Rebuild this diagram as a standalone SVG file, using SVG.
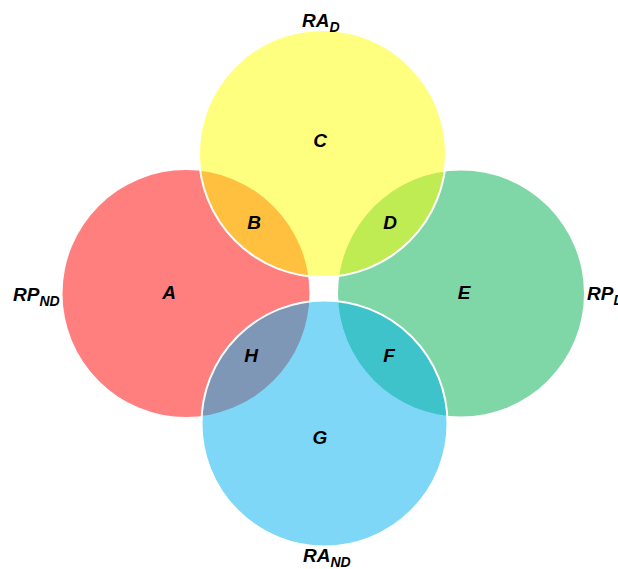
<svg xmlns="http://www.w3.org/2000/svg" width="618" height="569" viewBox="0 0 618 569">
<style>
.c{fill-opacity:0.5;stroke:none}
.s{stroke:#fff;stroke-width:2}
text{font-family:"Liberation Sans",Arial,sans-serif;font-style:italic;font-weight:bold;font-size:19px;fill:#000}
.m{text-anchor:middle}
.sub{font-size:14px}
</style>
<rect width="618" height="569" fill="#fff"/>
<g id="circles">
<g id="rpnd"><circle class="c" cx="186" cy="293.5" r="123.5" fill="#ff0000"/></g>
<g id="rpd"><circle class="c" cx="461" cy="293.5" r="123" fill="#00b050"/></g>
<g id="rad"><circle class="c s" cx="322.5" cy="153.5" r="123.5" fill="#ffff00"/></g>
<g id="rand"><circle class="c s" cx="324.5" cy="423.5" r="123" fill="#00b0f0"/></g>
</g>
<g id="regions">
<text class="m" x="169" y="299">A</text>
<text class="m" x="254" y="229">B</text>
<text class="m" x="320" y="147">C</text>
<text class="m" x="390" y="229">D</text>
<text class="m" x="464" y="299">E</text>
<text class="m" x="389" y="362">F</text>
<text class="m" x="320" y="444">G</text>
<text class="m" x="251" y="362">H</text>
</g>
<g id="labels">
<text x="302" y="27">RA<tspan class="sub" dy="5">D</tspan></text>
<text x="13" y="301">RP<tspan class="sub" dy="5">ND</tspan></text>
<text x="587" y="300">RP<tspan class="sub" dy="5">D</tspan></text>
<text x="303" y="562">RA<tspan class="sub" dy="5">ND</tspan></text>
</g>
</svg>
